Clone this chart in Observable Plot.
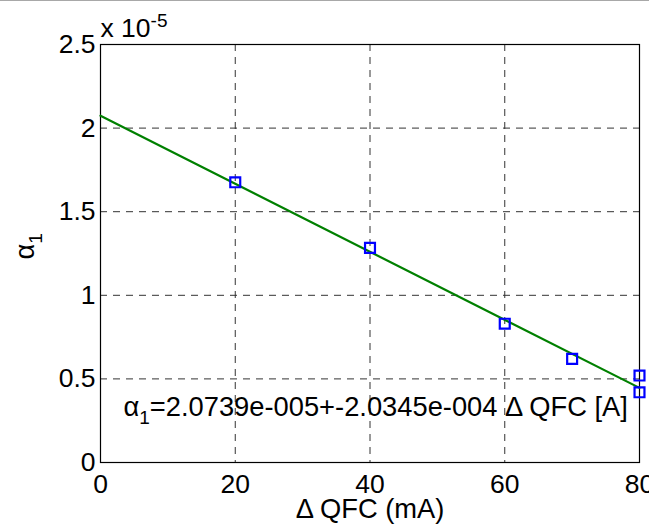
<!DOCTYPE html>
<html>
<head>
<meta charset="utf-8">
<script src="https://cdn.jsdelivr.net/npm/d3@7"></script>
<script src="https://cdn.jsdelivr.net/npm/@observablehq/plot@0.6"></script>
<style>
  html, body { margin: 0; padding: 0; background: #fff; overflow: hidden; }
  #topline { position: absolute; left: 0; top: 0; width: 649px; height: 1px; background: #a8a8a8; }
  #chart { position: absolute; left: 0; top: 0; }
</style>
</head>
<body>
<div id="chart"></div>
<div id="topline"></div>
<script>
// Measured points (alpha_1 in units of 1e-5) vs Delta QFC (mA)
const qfc = [20, 40, 60, 70, 80, 80];
const alpha = [1.676, 1.284, 0.83, 0.62, 0.52, 0.42];
// Linear fit endpoints (alpha1 = 2.0739e-5 - 2.0345e-4 * dQFC[A])
const fitX = [0, 80];
const fitY = [2.0739, 0.4463];
// Tick labels
const xTicks = [0, 20, 40, 60, 80];
const yTicks = [0, 0.5, 1, 1.5, 2, 2.5];
const xGrid = [20, 40, 60];
const yGrid = [0.5, 1, 1.5, 2];

const points = qfc.map((x, i) => ({x, y: alpha[i]}));
const fit = fitX.map((x, i) => ({x, y: fitY[i]}));

const FONT = "'Liberation Sans', Arial, Helvetica, sans-serif";
const FS = 26.5;   // tick labels
const LS = 27.3;   // labels / annotation

const plot = Plot.plot({
  width: 649,
  height: 526,
  marginLeft: 100,
  marginRight: 10,
  marginTop: 44,
  marginBottom: 64,
  style: {fontFamily: FONT, fontSize: FS + "px", color: "#000", background: "#fff", overflow: "visible"},
  x: {domain: [0, 80]},
  y: {domain: [0, 2.5]},
  marks: [
    Plot.ruleX(xGrid, {stroke: "#333", strokeWidth: 1, strokeDasharray: "7,6"}),
    Plot.ruleY(yGrid, {stroke: "#333", strokeWidth: 1, strokeDasharray: "7,6"}),
    Plot.axisX({ticks: xTicks, tickSize: 0, tickPadding: 12, fontSize: FS, label: null, tickFormat: d => String(d), fill: "#000"}),
    Plot.axisY({ticks: yTicks, tickSize: 0, tickPadding: 5, fontSize: FS, label: null, tickFormat: d => String(d), fill: "#000"}),
    Plot.frame({stroke: "#000", strokeWidth: 1.2}),
    Plot.line(fit, {x: "x", y: "y", stroke: "#008000", strokeWidth: 2.2}),
    Plot.dot(points, {x: "x", y: "y", symbol: "square", r: 5.6, stroke: "#0000ff", strokeWidth: 2.2, fill: "none", clip: false}),
    Plot.text(["α1=2.0739e-005+-2.0345e-004 Δ QFC [A]"], {frameAnchor: "bottom-left", lineAnchor: "middle", textAnchor: "start", dx: 23, dy: -55, fill: "#000", fontSize: LS, className: "formula"}),
    Plot.text(["x 10-5"], {frameAnchor: "top-left", lineAnchor: "middle", textAnchor: "start", dx: 0, dy: -16, fill: "#000", fontSize: FS, className: "expo"}),
    Plot.text(["Δ QFC (mA)"], {frameAnchor: "bottom", lineAnchor: "middle", dy: 47, fill: "#000", fontSize: LS}),
    Plot.text(["α1"], {frameAnchor: "left", lineAnchor: "middle", dx: -75, dy: 6, rotate: -90, fill: "#000", fontSize: LS, className: "ylab"})
  ]
});

// subscripts / superscript as real tspans
function splitText(sel, first, sub, rest, shift, size, base) {
  d3.select(plot).selectAll(sel + " text").each(function() {
    const t = d3.select(this);
    t.text(null);
    t.append("tspan").text(first);
    t.append("tspan").attr("dy", shift).attr("font-size", size).text(sub);
    if (rest) t.append("tspan").attr("dy", -shift).attr("font-size", base).text(rest);
  });
}
splitText(".formula", "α", "1", "=2.0739e-005+-2.0345e-004 Δ QFC [A]", 8, 19, LS);
splitText(".expo", "x 10", "-5", null, -10, 19, FS);
splitText(".ylab", "α", "1", null, 8, 19, LS);

document.getElementById("chart").appendChild(plot);
</script>
</body>
</html>
